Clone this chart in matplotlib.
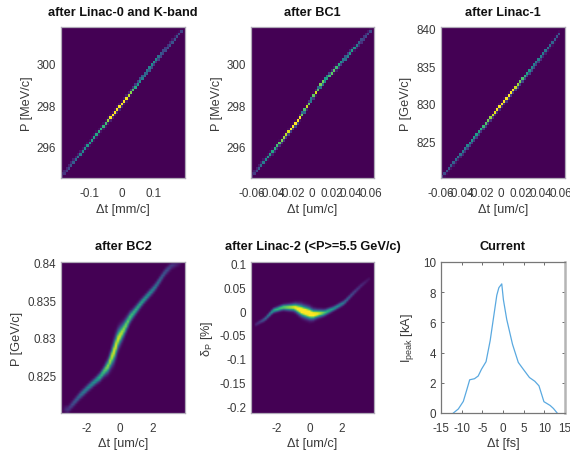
import numpy as np
import matplotlib
matplotlib.use("Agg")
import matplotlib.pyplot as plt

plt.rcParams['font.family'] = ['Liberation Sans', 'DejaVu Sans']
plt.rcParams['mathtext.fontset'] = 'custom'
plt.rcParams['mathtext.rm'] = 'Liberation Sans'
plt.rcParams['mathtext.it'] = 'Liberation Sans'
plt.rcParams['mathtext.bf'] = 'Liberation Sans:bold'

W, H = 570, 452
TXT = '#3a3a3a'
BOX = '#b0aab8'

# Ridge of each phase-space density: centre line, peak density, width
l0_x = [-0.188, -0.104, 0.001, 0.106, 0.192]
l0_y = [294.6, 296.1, 298.04, 300.1, 301.6]
l0_px = [-0.19, -0.14, -0.10, -0.05, -0.03, 0.0, 0.02, 0.05, 0.10, 0.13, 0.19]
l0_pk = [0.18, 0.42, 0.55, 0.68, 1.10, 1.15, 0.95, 0.70, 0.68, 0.42, 0.20]

bc1_x = [-0.0603, -0.037, -0.0137, 0.0097, 0.033, 0.0603]
bc1_y = [294.6, 295.88, 297.24, 299.0, 300.2, 301.6]
bc1_px = [-0.06, -0.05, -0.04, -0.03, -0.02, -0.01, 0.0, 0.01, 0.015, 0.025, 0.04, 0.05, 0.06]
bc1_pk = [0.18, 0.42, 0.60, 0.88, 1.10, 1.10, 0.78, 1.15, 0.95, 0.70, 0.60, 0.36, 0.22]

l1_x = [-0.0593, -0.0326, 0.0009, 0.0344, 0.0618]
l1_y = [820.2, 824.4, 829.9, 835.2, 839.8]
l1_px = [-0.06, -0.04, -0.03, -0.02, -0.01, 0.0, 0.01, 0.02, 0.03, 0.04, 0.05, 0.06]
l1_pk = [0.18, 0.46, 0.66, 0.72, 0.92, 1.15, 1.15, 0.92, 0.66, 0.55, 0.36, 0.22]

bc2_x = [-3.15, -2.44, -1.92, -1.21, -0.70, -0.33, -0.09, 0.22, 0.63, 1.34, 2.16, 2.77, 3.18, 3.69]
bc2_y = [0.8205, 0.8223, 0.8234, 0.8248, 0.8263, 0.8283, 0.8299, 0.8310, 0.8327, 0.8347, 0.8367, 0.8387, 0.8396, 0.8400]
bc2_px = [-3.5, -3.3, -2.8, -2.2, -1.5, -1.0, -0.6, -0.3, 0.0, 0.3, 0.8, 1.5, 2.2, 2.8, 3.4, 3.8]
bc2_pk = [0.02, 0.12, 0.28, 0.45, 0.55, 0.75, 0.90, 1.00, 0.95, 0.85, 0.70, 0.60, 0.45, 0.28, 0.12, 0.03]
bc2_sg = [0.00028, 0.00028, 0.00028, 0.00028, 0.00028, 0.00035, 0.0006, 0.00085, 0.0007, 0.00055, 0.00035, 0.00028, 0.00028, 0.00028, 0.00028, 0.00028]

l2_x = [-3.35, -2.74, -2.23, -1.62, -0.90, -0.39, 0.22, 0.94, 1.55, 2.16, 2.67, 3.18, 3.75]
l2_y = [-0.029, -0.017, 0.001, 0.008, 0.008, 0.000, -0.007, -0.0035, 0.006, 0.018, 0.036, 0.053, 0.069]
l2_px = [-3.4, -3.0, -2.5, -2.2, -1.6, -1.0, -0.5, 0.0, 0.5, 1.0, 1.5, 2.0, 2.5, 3.0, 3.5, 3.8]
l2_pk = [0.08, 0.20, 0.45, 0.62, 0.78, 0.95, 1.25, 1.30, 1.05, 0.70, 0.55, 0.45, 0.28, 0.16, 0.08, 0.03]
l2_sg = [0.0025, 0.0025, 0.0028, 0.003, 0.0035, 0.0045, 0.007, 0.0072, 0.005, 0.0038, 0.003, 0.003, 0.003, 0.003, 0.0028, 0.0025]

# Current profile
cur_t = [-12.0, -10.8, -9.6, -8.8, -8.06, -6.9, -6.0, -5.2, -4.1, -3.1, -2.3, -1.5, -1.0, -0.3,
         0.1, 0.9, 2.3, 3.7, 4.9, 6.4, 7.7, 8.7, 9.9, 11.4, 12.2, 13.1]
cur_i = [0.0, 0.27, 0.77, 1.5, 2.2, 2.27, 2.45, 2.9, 3.4, 4.8, 6.3, 7.8, 8.3, 8.55,
         7.5, 6.2, 4.55, 3.35, 2.9, 2.35, 2.1, 1.8, 0.75, 0.5, 0.3, 0.0]

titles = ['after Linac-0 and K-band', 'after BC1', 'after Linac-1', 'after BC2',
          'after Linac-2 (<P>=5.5 GeV/c)', 'Current']


def pos(l, t, r, b):
    return [l / W, 1 - b / H, (r - l) / W, (b - t) / H]


def density(ax, rx, ry, px, pk, sg, xlim, ylim, nx=54, ny=54, interp='nearest'):
    xe = np.linspace(xlim[0], xlim[1], nx + 1)
    ye = np.linspace(ylim[0], ylim[1], ny + 1)
    xc, yc = (xe[:-1] + xe[1:]) / 2, (ye[:-1] + ye[1:]) / 2
    cy = np.interp(xc, rx, ry)
    p = np.interp(xc, px, pk, left=0, right=0)
    s = np.interp(xc, px, sg) if np.ndim(sg) else sg
    Z = p[None, :] * np.exp(-(yc[:, None] - cy[None, :]) ** 2 / (2 * s ** 2))
    Z[:, (xc < min(px)) | (xc > max(px))] = 0
    ax.imshow(Z, origin='lower', extent=[xlim[0], xlim[1], ylim[0], ylim[1]], aspect='auto',
              cmap='viridis', vmin=0, vmax=1, interpolation=interp)
    ax.set_xlim(xlim)
    ax.set_ylim(ylim)


def style(ax, title, xl, yl, xt, xtl, yt, ytl, image=True, ypad=3):
    ax.set_title(title, fontsize=9.15, fontweight='bold', color='#111111', pad=9)
    ax.set_xlabel(xl, fontsize=9.2, color=TXT, labelpad=2.5)
    ax.set_ylabel(yl, fontsize=9.2, color=TXT, labelpad=ypad)
    ax.set_xticks(xt, xtl)
    ax.set_yticks(yt, ytl)
    ax.tick_params(labelsize=8.4, labelcolor=TXT, length=0 if image else 2, direction='in',
                   color='#555555', width=0.6, top=not image, right=not image)
    ax.tick_params(axis='x', pad=6.5)
    ax.tick_params(axis='y', pad=3.5)
    for s in ax.spines.values():
        s.set_color(BOX if image else '#777777')
        s.set_linewidth(0.9)


fig = plt.figure(figsize=(W / 100, H / 100), dpi=100, facecolor='white')
row1 = (28, 179)
row2 = (263, 414)
col = [(61, 185), (251, 374), (441, 565)]

a1 = fig.add_axes(pos(col[0][0], row1[0], col[0][1], row1[1]))
density(a1, l0_x, l0_y, l0_px, l0_pk, 0.058, (-0.19, 0.2), (294.5, 301.75))
style(a1, titles[0], 'Δt [mm/c]', 'P [MeV/c]', [-0.1, 0, 0.1], ['-0.1', '0', '0.1'],
      [296, 298, 300], ['296', '298', '300'])

tk = [-0.06, -0.04, -0.02, 0, 0.02, 0.04, 0.06]
tl = ['-0.06', '-0.04', '-0.02', '0', '0.02', '0.04', '0.06']
a2 = fig.add_axes(pos(col[1][0], row1[0], col[1][1], row1[1]))
density(a2, bc1_x, bc1_y, bc1_px, bc1_pk, 0.058, (-0.061, 0.063), (294.5, 301.75))
style(a2, titles[1], 'Δt [um/c]', 'P [MeV/c]', tk, tl, [296, 298, 300], ['296', '298', '300'])

a3 = fig.add_axes(pos(col[2][0], row1[0], col[2][1], row1[1]))
density(a3, l1_x, l1_y, l1_px, l1_pk, 0.16, (-0.06, 0.0645), (820.1, 840.2))
style(a3, titles[2], 'Δt [um/c]', 'P [GeV/c]', tk, tl, [825, 830, 835, 840],
      ['825', '830', '835', '840'])

a4 = fig.add_axes(pos(col[0][0], row2[0], col[0][1], row2[1]))
density(a4, bc2_x, bc2_y, bc2_px, bc2_pk, bc2_sg, (-3.6, 4.0), (0.82, 0.8401),
        nx=62, ny=62, interp='bilinear')
style(a4, titles[3], 'Δt [um/c]', 'P [GeV/c]', [-2, 0, 2], ['-2', '0', '2'],
      [0.825, 0.83, 0.835, 0.84], ['0.825', '0.83', '0.835', '0.84'])

a5 = fig.add_axes(pos(col[1][0], row2[0], col[1][1], row2[1]))
density(a5, l2_x, l2_y, l2_px, l2_pk, l2_sg, (-3.6, 4.0), (-0.2145, 0.1035),
        nx=62, ny=100, interp='bilinear')
style(a5, titles[4], 'Δt [um/c]', r'$\mathrm{\delta_P}$ [%]', [-2, 0, 2], ['-2', '0', '2'],
      [-0.2, -0.15, -0.1, -0.05, 0, 0.05, 0.1],
      ['-0.2', '-0.15', '-0.1', '-0.05', '0', '0.05', '0.1'])

a6 = fig.add_axes(pos(col[2][0], row2[0], col[2][1], row2[1]))
a6.plot(cur_t, cur_i, color='#5aa9e0', lw=0.9)
a6.set_xlim(-15, 15)
a6.set_ylim(0, 10)
style(a6, titles[5], 'Δt [fs]', r'I$_{\mathrm{peak}}$ [kA]',
      [-15, -10, -5, 0, 5, 10, 15], ['-15', '-10', '-5', '0', '5', '10', '15'],
      [0, 2, 4, 6, 8, 10], ['0', '2', '4', '6', '8', '10'], image=False, ypad=5)
a6.spines['right'].set_color('#b5b5b5')
a6.spines['right'].set_linewidth(1.8)

fig.savefig('out.png', dpi=100)
